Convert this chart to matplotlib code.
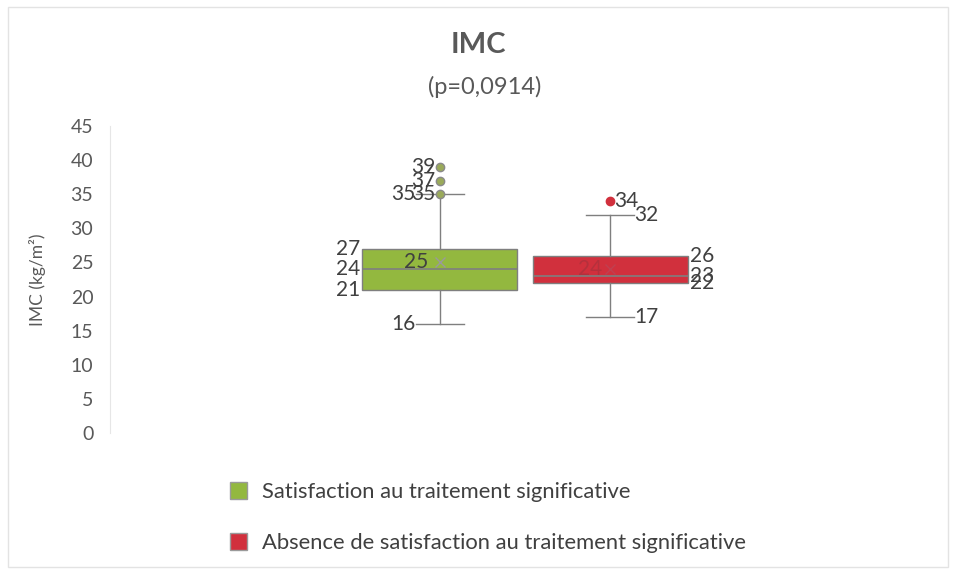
import matplotlib.pyplot as plt
from matplotlib.patches import Patch, Rectangle

# data
categories = ['Satisfaction au traitement significative',
              'Absence de satisfaction au traitement significative']
q1 = [21, 22]
medians = [24, 23]
q3 = [27, 26]
whis_lo = [16, 17]
whis_hi = [35, 32]
means = [25, 24]
outliers = [[35, 37, 39], [34]]
yticks = [0, 5, 10, 15, 20, 25, 30, 35, 40, 45]

colors = ['#93b83f', '#d1303d']
edge = '#7f7f7f'
txt = '#404040'
plt.rcParams['font.family'] = ['Lato', 'DejaVu Sans']

fig = plt.figure(figsize=(9.55, 5.79), dpi=100)
fig.patches.append(Rectangle((8 / 955, 12 / 579), 940 / 955, 560 / 579,
                             transform=fig.transFigure, fill=False,
                             edgecolor='#e3e3e3', lw=1))
ax = fig.add_axes([110 / 955, 1 - 433 / 579, 830 / 955, 307 / 579])

positions = [1, 2]
width = 0.912
stats = []
for i in range(2):
    stats.append(dict(med=medians[i], q1=q1[i], q3=q3[i], whislo=whis_lo[i],
                      whishi=whis_hi[i], mean=means[i], fliers=outliers[i]))

bp = ax.bxp(stats, positions=positions, widths=width, capwidths=0.28,
            showmeans=True, patch_artist=True,
            boxprops=dict(edgecolor=edge, lw=1),
            medianprops=dict(color=edge, lw=1.2),
            whiskerprops=dict(color=edge, lw=1),
            capprops=dict(color=edge, lw=1),
            meanprops=dict(marker='x', markeredgecolor='#9a9a9a', markersize=7),
            flierprops=dict(marker='o', markersize=6))
for box, c in zip(bp['boxes'], colors):
    box.set_facecolor(c)
bp['means'][1].set_markeredgecolor('#c04050')
for fl, c in zip(bp['fliers'], colors):
    fl.set_markerfacecolor('#9aaa5a' if c == colors[0] else c)
    fl.set_markeredgecolor('#8a8a8a' if c == colors[0] else c)

# data labels: left side for the first box, right side for the second
fs = 15
lab = dict(fontsize=fs, color=txt, va='center', textcoords='offset points')
p, s = positions[0], stats[0]
for v in (s['q1'], s['med'], s['q3']):
    ax.annotate(str(v), (p - width / 2, v), xytext=(-1, 0), ha='right', **lab)
for v in (s['whislo'], s['whishi']):
    ax.annotate(str(v), (p - 0.14, v), xytext=(0, 0), ha='right', **lab)
for v in s['fliers']:
    ax.annotate(str(v), (p, v), xytext=(-3, 0), ha='right', **lab)
ax.annotate(str(s['mean']), (p, s['mean']), xytext=(-8, 0), ha='right', **lab)

p, s = positions[1], stats[1]
for v in (s['q3'], s['med'], s['q1']):
    ax.annotate(str(v), (p + width / 2, v), xytext=(1, 0), ha='left', **lab)
for v in (s['whislo'], s['whishi']):
    ax.annotate(str(v), (p + 0.14, v), xytext=(0, 0), ha='left', **lab)
for v in s['fliers']:
    ax.annotate(str(v), (p, v), xytext=(3, 0), ha='left', **lab)
ax.annotate(str(s['mean']), (p, s['mean']), xytext=(-6, 0), ha='right',
            fontsize=fs, color='#b5303c', va='center', textcoords='offset points')

ax.set_xlim(-0.93, 3.93)
ax.set_ylim(0, 45)
ax.set_yticks(yticks)
ax.set_xticks([])
ax.tick_params(axis='y', length=0, pad=12, labelsize=14, labelcolor='#595959')
for side in ['top', 'right', 'bottom']:
    ax.spines[side].set_visible(False)
ax.spines['left'].set_color('#e6e6e6')
ax.patch.set_alpha(0)

fig.text(478 / 955, 1 - 45 / 579, 'IMC', ha='center', va='center',
         fontsize=21, fontweight='bold', color='#595959')
fig.text(485 / 955, 1 - 87 / 579, '(p=0,0914)', ha='center', va='center',
         fontsize=17, color='#595959')
fig.text(37 / 955, 1 - 280 / 579, 'IMC (kg/m²)', rotation=90, ha='center',
         va='center', fontsize=12.5, color='#595959')

handles = [Patch(facecolor=c, edgecolor='#9a9a9a') for c in colors]
fig.legend(handles, categories, loc='upper left',
           bbox_to_anchor=(230 / 955, 1 - 482 / 579), frameon=False,
           borderpad=0, borderaxespad=0,
           fontsize=15.8, labelcolor=txt, handlelength=0.77, handleheight=0.77,
           handletextpad=0.68, labelspacing=1.42)

fig.savefig('out.png', dpi=100)
